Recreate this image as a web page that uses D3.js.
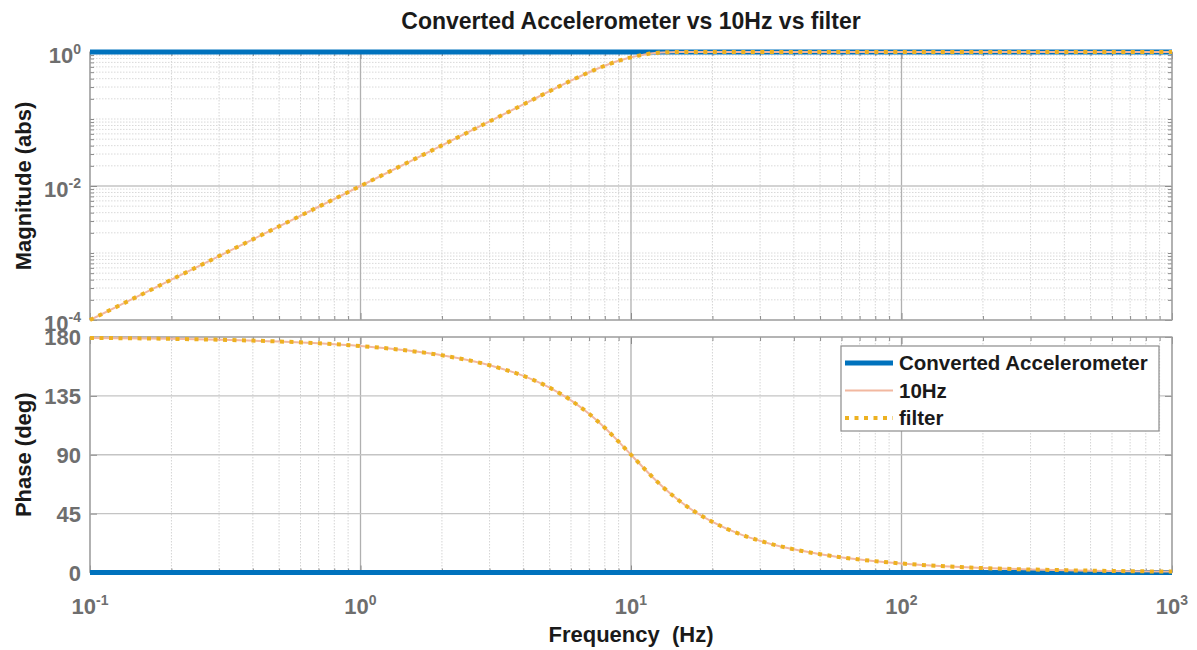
<!DOCTYPE html>
<html>
<head>
<meta charset="utf-8">
<script src="https://cdn.jsdelivr.net/npm/d3@7"></script>
<style>
  body { margin: 0; background: #fff; }
  text { font-family: "Liberation Sans", Arial, sans-serif; font-weight: bold; }
</style>
</head>
<body>
<svg id="svg" width="1197" height="650"></svg>
<script>
// values
let freq = [0.1, 0.2, 0.3, 0.5, 0.7, 1, 1.5, 2, 3, 4, 5, 6, 7, 8, 9, 10, 11, 12, 13, 15, 17, 20, 25, 30, 40, 50, 70, 100, 150, 200, 300, 500, 700, 1000];
let filterMag = [1.0e-4, 4.0e-4, 9.0e-4, 2.5e-3, 4.9e-3, 0.0100, 0.0226, 0.0404, 0.092, 0.165, 0.260, 0.374, 0.499, 0.624, 0.739, 0.833, 0.905, 0.956, 0.985, 1, 1, 1, 1, 1, 1, 1, 1, 1, 1, 1, 1, 1, 1, 1];
let filterPhase = [179.3, 178.6, 177.9, 176.6, 175.2, 173.1, 169.6, 166.0, 158.4, 150.3, 141.3, 131.6, 121.3, 110.6, 100.0, 90.0, 81.0, 73.0, 66.1, 55.2, 47.2, 38.7, 29.7, 24.2, 17.7, 14.0, 9.9, 6.9, 4.6, 3.4, 2.3, 1.4, 1.0, 0.7];
// 10Hz sits exactly under the filter curve
let tenHzMag = [1.0e-4, 4.0e-4, 9.0e-4, 2.5e-3, 4.9e-3, 0.0100, 0.0226, 0.0404, 0.092, 0.165, 0.260, 0.374, 0.499, 0.624, 0.739, 0.833, 0.905, 0.956, 0.985, 1, 1, 1, 1, 1, 1, 1, 1, 1, 1, 1, 1, 1, 1, 1];
let tenHzPhase = [179.3, 178.6, 177.9, 176.6, 175.2, 173.1, 169.6, 166.0, 158.4, 150.3, 141.3, 131.6, 121.3, 110.6, 100.0, 90.0, 81.0, 73.0, 66.1, 55.2, 47.2, 38.7, 29.7, 24.2, 17.7, 14.0, 9.9, 6.9, 4.6, 3.4, 2.3, 1.4, 1.0, 0.7];
let accelFreq = [0.1, 1000];
let accelMag = [1, 1];
let accelPhase = [0, 0];

let xTicks = [0.1, 1, 10, 100, 1000];
let magTicks = [1e-4, 1e-2, 1];
let phaseTicks = [0, 45, 90, 135, 180];
let legendNames = ["Converted Accelerometer", "10Hz", "filter"];

let left = 90, right = 1172;
let magTop = 52, magBottom = 320;
let phTop = 337, phBottom = 572.5;

let blue = "#0072BD", salmon = "#F2B8A0", yellow = "#EDB120";
let styles = [
  { stroke: blue, width: 5, dash: null },
  { stroke: salmon, width: 2, dash: null },
  { stroke: yellow, width: 4, dash: "4,5.5" }
];

let svg = d3.select("#svg");
svg.append("rect").attr("width", 1197).attr("height", 650).attr("fill", "#fff");

let xScale = d3.scaleLog().domain([0.1, 1000]).range([left, right]);
let magScale = d3.scaleLog().domain([1e-4, 1]).range([magBottom, magTop]);
let phScale = d3.scaleLinear().domain([0, 180]).range([phBottom, phTop]);

// minor values k*10^n
function minors(lo, hi) {
  let out = [];
  for (let n = lo; n < hi; n++)
    for (let k = 1; k < 10; k++) out.push(k * Math.pow(10, n));
  out.push(Math.pow(10, hi));
  return out;
}
let xMinor = minors(-1, 3).filter(v => !xTicks.some(t => Math.abs(t - v) < 1e-9 * v));
let magMinor = minors(-4, 0).filter(v => !magTicks.some(t => Math.abs(t - v) < 1e-9 * v));

function panel(yScale, yMajor, yMinor, top, bottom) {
  let g = svg.append("g");
  // grid
  g.selectAll(".vmin").data(xMinor).join("line")
    .attr("x1", d => xScale(d)).attr("x2", d => xScale(d))
    .attr("y1", top).attr("y2", bottom)
    .attr("stroke", "#d4d4d4").attr("stroke-dasharray", "1.5,1.5");
  if (yMinor.length)
    g.selectAll(".hmin").data(yMinor).join("line")
      .attr("x1", left).attr("x2", right)
      .attr("y1", d => yScale(d)).attr("y2", d => yScale(d))
      .attr("stroke", "#d9d9d9").attr("stroke-dasharray", "1.5,1.5");
  g.selectAll(".vmaj").data(xTicks).join("line")
    .attr("x1", d => xScale(d)).attr("x2", d => xScale(d))
    .attr("y1", top).attr("y2", bottom)
    .attr("stroke", "#b0b0b0").attr("stroke-width", 1.3);
  g.selectAll(".hmaj").data(yMajor).join("line")
    .attr("x1", left).attr("x2", right)
    .attr("y1", d => yScale(d)).attr("y2", d => yScale(d))
    .attr("stroke", "#c4c4c4").attr("stroke-width", 1.3);

  // inner ticks on all four sides
  let axes = [
    [d3.axisBottom(xScale).tickValues(xTicks).tickSize(-7), `translate(0,${bottom})`],
    [d3.axisBottom(xScale).tickValues(xMinor).tickSize(-4), `translate(0,${bottom})`],
    [d3.axisTop(xScale).tickValues(xTicks).tickSize(-7), `translate(0,${top})`],
    [d3.axisTop(xScale).tickValues(xMinor).tickSize(-4), `translate(0,${top})`],
    [d3.axisLeft(yScale).tickValues(yMajor).tickSize(-7), `translate(${left},0)`],
    [d3.axisRight(yScale).tickValues(yMajor).tickSize(-7), `translate(${right},0)`]
  ];
  if (yMinor.length) {
    axes.push([d3.axisLeft(yScale).tickValues(yMinor).tickSize(-4), `translate(${left},0)`]);
    axes.push([d3.axisRight(yScale).tickValues(yMinor).tickSize(-4), `translate(${right},0)`]);
  }
  axes.forEach(([ax, tr]) => {
    let a = g.append("g").attr("transform", tr).call(ax.tickFormat(""));
    a.select(".domain").remove();
    a.selectAll("line").attr("stroke", "#8c8c8c");
  });

  g.append("rect").attr("x", left).attr("y", top)
    .attr("width", right - left).attr("height", bottom - top)
    .attr("fill", "none").attr("stroke", "#a0a0a0").attr("stroke-width", 1.2);
  return g;
}

let magPanel = panel(magScale, magTicks, magMinor, magTop, magBottom);
let phPanel = panel(phScale, phaseTicks, [], phTop, phBottom);

function drawLine(g, xs, ys, yScale, st) {
  let line = d3.line()
    .x((d, i) => xScale(xs[i]))
    .y(d => yScale(d))
    .curve(d3.curveMonotoneX);
  g.append("path").datum(ys)
    .attr("d", line)
    .attr("fill", "none")
    .attr("stroke", st.stroke)
    .attr("stroke-width", st.width)
    .attr("stroke-dasharray", st.dash);
}

drawLine(magPanel, accelFreq, accelMag, magScale, styles[0]);
drawLine(magPanel, freq, tenHzMag, magScale, styles[1]);
drawLine(magPanel, freq, filterMag, magScale, styles[2]);
drawLine(phPanel, accelFreq, accelPhase, phScale, styles[0]);
drawLine(phPanel, freq, tenHzPhase, phScale, styles[1]);
drawLine(phPanel, freq, filterPhase, phScale, styles[2]);

// tick labels
let tickColor = "#6e6e6e";
function powLabel(sel, exp) {
  sel.append("tspan").text("10");
  sel.append("tspan").attr("dy", -9).attr("font-size", 14).text(exp);
}
magTicks.forEach(v => {
  let t = svg.append("text").attr("x", 81).attr("y", magScale(v) + 11)
    .attr("text-anchor", "end").attr("font-size", 22).attr("fill", tickColor);
  powLabel(t, String(Math.round(Math.log10(v))));
});
phaseTicks.forEach(v => {
  svg.append("text").attr("x", 81).attr("y", phScale(v) + 8)
    .attr("text-anchor", "end").attr("font-size", 22).attr("fill", tickColor)
    .text(v);
});
xTicks.forEach(v => {
  let t = svg.append("text").attr("x", xScale(v)).attr("y", 614)
    .attr("text-anchor", "middle").attr("font-size", 22).attr("fill", tickColor);
  powLabel(t, String(Math.round(Math.log10(v))));
});

// titles
svg.append("text").attr("x", 631).attr("y", 29).attr("text-anchor", "middle")
  .attr("font-size", 23).attr("fill", "#1a1a1a")
  .text("Converted Accelerometer vs 10Hz vs filter");
svg.append("text").attr("x", 631).attr("y", 642).attr("text-anchor", "middle")
  .attr("font-size", 22).attr("fill", "#1a1a1a").attr("xml:space", "preserve")
  .text("Frequency  (Hz)");
svg.append("text").attr("transform", `translate(31,${(magTop + magBottom) / 2}) rotate(-90)`)
  .attr("text-anchor", "middle").attr("font-size", 22).attr("fill", "#1a1a1a")
  .text("Magnitude (abs)");
svg.append("text").attr("transform", `translate(31,${(phTop + phBottom) / 2}) rotate(-90)`)
  .attr("text-anchor", "middle").attr("font-size", 22).attr("fill", "#1a1a1a")
  .text("Phase (deg)");

// legend
let legend = svg.append("g");
legend.append("rect").attr("x", 841).attr("y", 346).attr("width", 318).attr("height", 85)
  .attr("fill", "#fff").attr("stroke", "#8c8c8c").attr("stroke-width", 1.2);
legendNames.forEach((name, i) => {
  let y = 363 + i * 27.5;
  let st = styles[i];
  legend.append("line").attr("x1", 845).attr("x2", 893).attr("y1", y).attr("y2", y)
    .attr("stroke", st.stroke).attr("stroke-width", st.width)
    .attr("stroke-dasharray", st.dash);
  legend.append("text").attr("x", 899).attr("y", y + 7)
    .attr("font-size", 20.5).attr("fill", "#1a1a1a").text(name);
});
</script>
</body>
</html>
